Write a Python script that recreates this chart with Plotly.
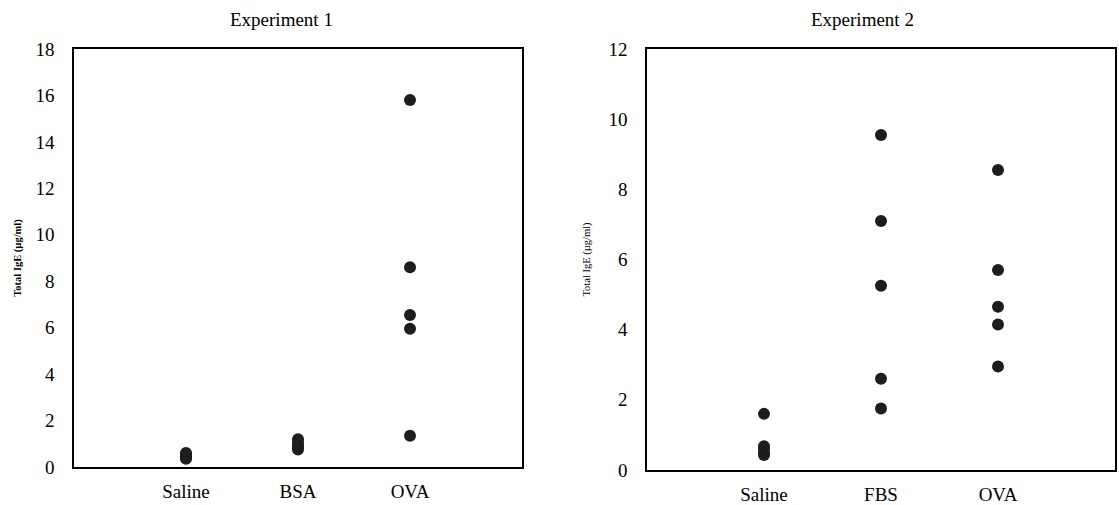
import plotly.graph_objects as go

# Experiment 1 groups and total IgE values (µg/ml)
exp1_groups = ["Saline", "BSA", "OVA"]
exp1_saline = [0.35, 0.42, 0.48, 0.55, 0.6]
exp1_bsa = [0.75, 0.85, 0.95, 1.05, 1.2]
exp1_ova = [15.8, 8.6, 6.55, 5.95, 1.35]

# Experiment 2 groups and total IgE values (µg/ml)
exp2_groups = ["Saline", "FBS", "OVA"]
exp2_saline = [0.43, 0.5, 0.62, 0.68, 1.6]
exp2_fbs = [9.55, 7.1, 5.25, 2.6, 1.75]
exp2_ova = [8.55, 5.7, 4.65, 4.15, 2.95]

exp1_ticks = [0, 2, 4, 6, 8, 10, 12, 14, 16, 18]
exp2_ticks = [0, 2, 4, 6, 8, 10, 12]

W, H = 1119, 505
SERIF = "Liberation Serif"
DOT = dict(size=12, color="#1d1d1d", line=dict(width=0))

fig = go.Figure()


def add_group(values_by_group, groups, xa, ya):
    for name, vals in zip(groups, values_by_group):
        fig.add_trace(go.Scatter(
            x=[name] * len(vals), y=vals, mode="markers",
            marker=DOT, xaxis=xa, yaxis=ya, showlegend=False,
            hoverinfo="y",
        ))


add_group([exp1_saline, exp1_bsa, exp1_ova], exp1_groups, "x", "y")
add_group([exp2_saline, exp2_fbs, exp2_ova], exp2_groups, "x2", "y2")


def px_x(a, b):
    return [a / W, b / W]


def px_y(top, bottom):
    return [1 - bottom / H, 1 - top / H]


axis_common = dict(
    showgrid=False, zeroline=False, showline=True, linecolor="black",
    linewidth=1.5, mirror=True, ticks="", showticklabels=True,
    automargin=False,
    tickfont=dict(family=SERIF, size=19, color="black"),
)
ytitle_font = dict(family=SERIF, size=10.5, color="black")

fig.update_layout(
    width=W, height=H,
    margin=dict(l=0, r=0, t=0, b=0),
    paper_bgcolor="white", plot_bgcolor="white",
    xaxis=dict(axis_common, domain=px_x(74, 522), anchor="y", type="category",
               range=[-1, 3], ticklabelstandoff=6),
    yaxis=dict(axis_common, domain=px_y(49, 467), anchor="x", range=[0, 18],
               tickvals=exp1_ticks, ticklabelstandoff=14,
               title=dict(text="<b>Total IgE (µg/ml)</b>", standoff=12, font=ytitle_font)),
    xaxis2=dict(axis_common, domain=px_x(647, 1115), anchor="y2", type="category",
                range=[-1, 3], ticklabelstandoff=6),
    yaxis2=dict(axis_common, domain=px_y(49, 470), anchor="x2", range=[0, 12],
                tickvals=exp2_ticks, ticklabelstandoff=14,
                title=dict(text="Total IgE (µg/ml)", standoff=16, font=ytitle_font)),
    annotations=[
        dict(text="Experiment 1", x=281 / W, y=1 - 19 / H, xref="paper", yref="paper",
             showarrow=False, xanchor="center", yanchor="middle",
             font=dict(family=SERIF, size=19, color="black")),
        dict(text="Experiment 2", x=862 / W, y=1 - 19 / H, xref="paper", yref="paper",
             showarrow=False, xanchor="center", yanchor="middle",
             font=dict(family=SERIF, size=19, color="black")),
    ],
)

fig.write_html("out.html")
